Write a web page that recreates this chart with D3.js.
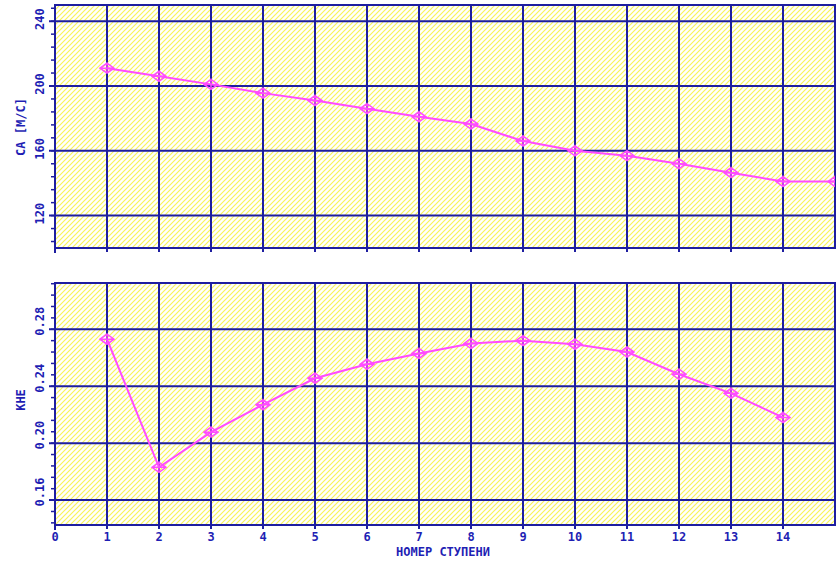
<!DOCTYPE html>
<html>
<head>
<meta charset="utf-8">
<script src="https://cdn.jsdelivr.net/npm/d3@7"></script>
<style>
  html, body { margin: 0; padding: 0; background: #fff; }
  text { font-family: "DejaVu Sans Mono", monospace; fill: #1f1fb4; font-weight: bold; }
</style>
</head>
<body>
<div id="chart"></div>
<script>
(function(){
    const width = 839;
    const height = 563;

    // Data
    const stages = [1, 2, 3, 4, 5, 6, 7, 8, 9, 10, 11, 12, 13, 14, 15];
    const caValues = [211, 206, 201, 195.6, 191, 186, 181, 176.5, 166, 160, 157, 152, 146.5, 141, 141];
    const kheStages = [1, 2, 3, 4, 5, 6, 7, 8, 9, 10, 11, 12, 13, 14];
    const kheValues = [0.273, 0.183, 0.2077, 0.227, 0.2456, 0.2554, 0.263, 0.270, 0.272, 0.2695, 0.264, 0.2484, 0.235, 0.218];
    const xTicks = [0, 1, 2, 3, 4, 5, 6, 7, 8, 9, 10, 11, 12, 13, 14];
    const caTicks = [120, 160, 200, 240];
    const kheTicks = [0.16, 0.20, 0.24, 0.28];

    const navy = "#1e1ea0";
    const magenta = "#ff4cff";

    const svg = d3.select("#chart")
        .append("svg")
        .attr("width", width)
        .attr("height", height);

    // Yellow hatch background pattern
    const defs = svg.append("defs");
    const pat = defs.append("pattern")
        .attr("id", "hatch")
        .attr("patternUnits", "userSpaceOnUse")
        .attr("width", 5)
        .attr("height", 5);
    pat.append("rect").attr("width", 5).attr("height", 5).attr("fill", "#ffffff");
    pat.append("path")
        .attr("d", "M0,5 L5,0 M-1,1 L1,-1 M4,6 L6,4")
        .attr("stroke", "#f8f45a")
        .attr("stroke-width", 1.2);

    const x = d3.scaleLinear().domain([0, 15]).range([55, 835]);

    const panels = [
        {
            id: "top", xs: stages, ys: caValues, ticks: caTicks,
            y: d3.scaleLinear().domain([100, 250]).range([248, 5]),
            minorStep: 8, minorStart: 104, minorEnd: 248,
            fmt: d3.format("d"), label: "СА [М/С]", labelY: 127, tickDy: -2
        },
        {
            id: "bottom", xs: kheStages, ys: kheValues, ticks: kheTicks,
            y: d3.scaleLinear().domain([0.1425, 0.3125]).range([525, 283]),
            minorStep: 0.008, minorStart: 0.144, minorEnd: 0.312,
            fmt: d3.format(".2f"), label: "КНЕ", labelY: 400, tickDy: -8
        }
    ];

    panels.forEach(p => {
        const y = p.y;
        const g = svg.append("g");
        const [y0, y1] = y.range();

        defs.append("clipPath").attr("id", "clip-" + p.id)
            .append("rect")
            .attr("x", x(0)).attr("y", y1)
            .attr("width", x(15) - x(0)).attr("height", y0 - y1);

        // hatched area
        g.append("rect")
            .attr("x", x(0)).attr("y", y1)
            .attr("width", x(15) - x(0)).attr("height", y0 - y1)
            .attr("fill", "url(#hatch)");

        // vertical gridlines
        g.selectAll(".vgrid")
            .data(d3.range(1, 15))
            .enter().append("line")
            .attr("x1", d => x(d)).attr("x2", d => x(d))
            .attr("y1", y1).attr("y2", y0 + 4)
            .attr("stroke", navy).attr("stroke-width", 2);

        // horizontal gridlines
        g.selectAll(".hgrid")
            .data(p.ticks)
            .enter().append("line")
            .attr("x1", x(0) - 6).attr("x2", x(15))
            .attr("y1", d => y(d)).attr("y2", d => y(d))
            .attr("stroke", navy).attr("stroke-width", 2);

        // minor ticks on left axis
        const minors = d3.range(p.minorStart, p.minorEnd + p.minorStep / 2, p.minorStep);
        g.selectAll(".minor")
            .data(minors)
            .enter().append("line")
            .attr("x1", x(0) - 4).attr("x2", x(0))
            .attr("y1", d => y(d)).attr("y2", d => y(d))
            .attr("stroke", navy).attr("stroke-width", 1.5);

        // frame
        g.append("rect")
            .attr("x", x(0)).attr("y", y1)
            .attr("width", x(15) - x(0)).attr("height", y0 - y1)
            .attr("fill", "none")
            .attr("stroke", navy).attr("stroke-width", 2);
        g.append("line")
            .attr("x1", x(0)).attr("x2", x(0))
            .attr("y1", y0).attr("y2", y0 + 5)
            .attr("stroke", navy).attr("stroke-width", 2);

        // tick labels on y axis (rotated)
        g.selectAll(".ylab")
            .data(p.ticks)
            .enter().append("text")
            .attr("transform", d => `translate(44,${y(d) + p.tickDy}) rotate(-90)`)
            .attr("text-anchor", "middle")
            .style("font-size", "12px")
            .text(d => p.fmt(d));

        // axis title
        g.append("text")
            .attr("transform", `translate(25,${p.labelY}) rotate(-90)`)
            .attr("text-anchor", "middle")
            .style("font-size", "12px")
            .text(p.label);

        // data line and markers
        const pts = p.xs.map((d, i) => [d, p.ys[i]]);
        const plot = g.append("g").attr("clip-path", `url(#clip-${p.id})`);
        plot.append("path")
            .datum(pts)
            .attr("d", d3.line().x(d => x(d[0])).y(d => y(d[1])))
            .attr("fill", "none")
            .attr("stroke", magenta)
            .attr("stroke-width", 2);

        plot.selectAll(".marker")
            .data(pts)
            .enter().append("path")
            .attr("transform", d => `translate(${x(d[0])},${y(d[1])})`)
            .attr("d", "M-7,0 L0,-5 L7,0 L0,5 Z M0,-6 V5 M-7,0 H7")
            .attr("fill", "none")
            .attr("stroke", magenta)
            .attr("stroke-width", 1.5);
    });

    // x tick labels under the bottom panel
    svg.selectAll(".xlab")
        .data(xTicks)
        .enter().append("text")
        .attr("x", d => x(d))
        .attr("y", 541)
        .attr("text-anchor", "middle")
        .style("font-size", "12px")
        .text(d => d);

    svg.append("text")
        .attr("x", 443)
        .attr("y", 556)
        .attr("text-anchor", "middle")
        .style("font-size", "12px")
        .text("НОМЕР СТУПЕНИ");
})();
</script>
</body>
</html>
